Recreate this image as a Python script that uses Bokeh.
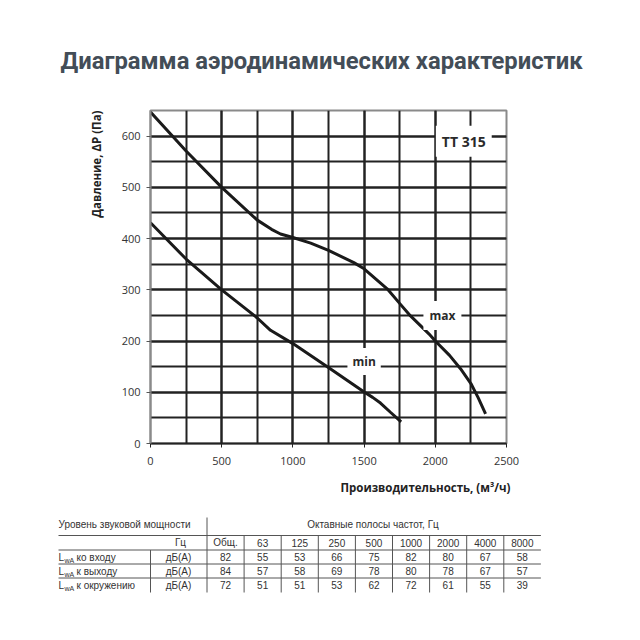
from bokeh.plotting import figure
from bokeh.models import Range1d, SingleIntervalTicker, Label, Title
from bokeh.layouts import column
from bokeh.embed import file_html
from bokeh.resources import INLINE
from bokeh.core.properties import value

# ---------------- data ----------------
title_text = "Диаграмма аэродинамических характеристик"
model_name = "TT 315"
x_title = "Производительность, (м³/ч)"
y_title = "Давление, ΔP (Па)"

max_q = [0, 250, 500, 750, 850, 913, 1000, 1125, 1250, 1428, 1500, 1662, 1751, 1826, 1955, 2000, 2100, 2177, 2250, 2300, 2353]
max_p = [647, 571, 500, 436, 418, 409, 402, 391, 377, 353, 341, 302, 273, 249, 214, 200, 172, 146, 117, 90, 58]
min_q = [0, 250, 500, 750, 843, 1000, 1252, 1503, 1560, 1615, 1685, 1760]
min_p = [431, 360, 300, 245, 221, 195, 148, 100, 90, 79, 61, 42]

table_header_left = "Уровень звуковой мощности"
table_header_right = "Октавные полосы частот, Гц"
unit_hz = "Гц"
unit_db = "дБ(А)"
bands = ["Общ.", "63", "125", "250", "500", "1000", "2000", "4000", "8000"]
row_names = ["ко входу", "к выходу", "к окружению"]
row_inlet = [82, 55, 53, 66, 75, 82, 80, 67, 58]
row_outlet = [84, 57, 58, 69, 78, 80, 78, 67, 57]
row_env = [72, 51, 51, 53, 62, 72, 61, 55, 39]

# ---------------- chart ----------------
W = 640
H1 = 505
FONT = "Open Sans"
BOLD = "Open Sans"
DARK = "#222222"

p = figure(width=W, height=H1, output_backend="svg", toolbar_location=None,
           x_range=Range1d(0, 2500), y_range=Range1d(0, 650),
           min_border_left=150, min_border_right=134, min_border_top=110, min_border_bottom=62)
p.frame_align = False
p.background_fill_color = "white"
p.border_fill_color = "white"
p.outline_line_color = "#8a8a8a"
p.outline_line_width = 2

p.title.text = title_text
p.title.align = "left"
p.title.offset = -90
p.title.standoff = 72
p.title.text_font = "Roboto"
p.title.text_font_style = "bold"
p.title.text_font_size = "23.8px"
p.title.text_color = "#434d57"

p.xaxis.ticker = SingleIntervalTicker(interval=500, num_minor_ticks=2)
p.yaxis.ticker = SingleIntervalTicker(interval=100, num_minor_ticks=2)
for g in (p.xgrid, p.ygrid):
    g.grid_line_color = DARK
    g.grid_line_width = 2
    g.minor_grid_line_color = DARK
    g.minor_grid_line_width = 2

for ax in (p.xaxis, p.yaxis):
    ax.minor_tick_line_color = None
    ax.major_tick_in = 0
    ax.major_tick_out = 4
    ax.major_label_text_font = FONT
    ax.major_label_text_font_size = "11px"
    ax.major_label_text_color = "#333333"
p.yaxis.axis_line_color = "#8a8a8a"
p.yaxis.axis_line_width = 2
p.yaxis.major_tick_line_color = "#555555"
p.yaxis.major_label_standoff = 6
p.xaxis.axis_line_color = DARK
p.xaxis.axis_line_width = 2
p.xaxis.major_tick_line_color = DARK
p.xaxis.major_label_standoff = 9

p.add_layout(Title(text=y_title, align="right", standoff=30, text_font=BOLD,
                   text_font_style="bold", text_font_size="11.5px", text_color="#222222"), "left")
p.add_layout(Title(text=x_title, align="right", offset=-4, standoff=21, text_font=BOLD,
                   text_font_style="bold", text_font_size="11.5px", text_color="#222222"), "below")

p.line(max_q, max_p, line_color="#1a1a1a", line_width=3)
p.line(min_q, min_p, line_color="#1a1a1a", line_width=3)

def tag(text, x, y, size, pad):
    lab = Label(x=x, y=y, text=text, text_align="center", text_baseline="middle",
                text_font=BOLD, text_font_style="bold", text_font_size=size,
                text_color="#2a2a2a", background_fill_color="white",
                background_fill_alpha=1.0, padding=pad)
    p.add_layout(lab)

tag(model_name, 2200, 590, "14px", 6)
tag("max", 2050, 250, "12px", 6)
tag("min", 1500, 160, "12px", 5)

# ---------------- table ----------------
H2 = 640 - H1
t = figure(width=W, height=H2, output_backend="svg", toolbar_location=None,
           x_range=Range1d(0, W), y_range=Range1d(H2, 0),
           min_border=0, min_border_left=0, min_border_right=0,
           min_border_top=0, min_border_bottom=0)
t.frame_align = False
t.axis.visible = False
t.grid.visible = False
t.outline_line_color = None
t.background_fill_color = "white"
t.border_fill_color = "white"

TF = "Liberation Sans"
TC = "#333333"
LC = "#555555"
x_left = 58
x_lab = 150
x_first = 206.5
col_w = 37.1
x_right = x_first + col_w * len(bands)
off = H1
y_head = 524 - off
y_lines = [535 - off, 549.5 - off, 563.5 - off, 577.5 - off]
y_rows = [542 - off, 556.5 - off, 570.5 - off, 584.5 - off]
y_bottom = 592 - off

t.segment(x0=[x_left] * 4, x1=[x_right] * 4, y0=y_lines, y1=y_lines, line_color=LC, line_width=1)
vx0 = [x_first] + [x_first + col_w * k for k in range(1, len(bands))] + [x_lab]
vy0 = [517 - off] + [y_lines[0]] * (len(bands) - 1) + [y_lines[1]]
vy1 = [y_bottom] * len(vx0)
t.segment(x0=vx0, x1=vx0, y0=vy0, y1=vy1, line_color=LC, line_width=1)

def txt(xs, ys, texts, align="center", size="10px"):
    t.text(x=xs, y=ys, text=texts, text_align=align, text_baseline="middle",
           text_font=value(TF), text_font_size=size, text_color=TC)

txt([x_left], [y_head], [table_header_left], align="left")
txt([(x_first + x_right) / 2 - 1], [y_head], [table_header_right])
txt([180], [y_rows[0]], [unit_hz])
centers = [x_first + col_w * (k + 0.5) for k in range(len(bands))]
txt(centers, [y_rows[0]] * len(bands), bands)
for r, vals in enumerate([row_inlet, row_outlet, row_env]):
    yy = y_rows[r + 1]
    txt(centers, [yy] * len(vals), [str(v) for v in vals])
    txt([178], [yy], [unit_db])
    txt([x_left], [yy], ["L"], align="left")
    txt([x_left + 6], [yy + 3], ["wA"], align="left", size="7px")
    txt([x_left + 18], [yy], [row_names[r]], align="left")

layout = column(p, t, spacing=0)
open("out.html", "w").write(file_html(layout, INLINE))
